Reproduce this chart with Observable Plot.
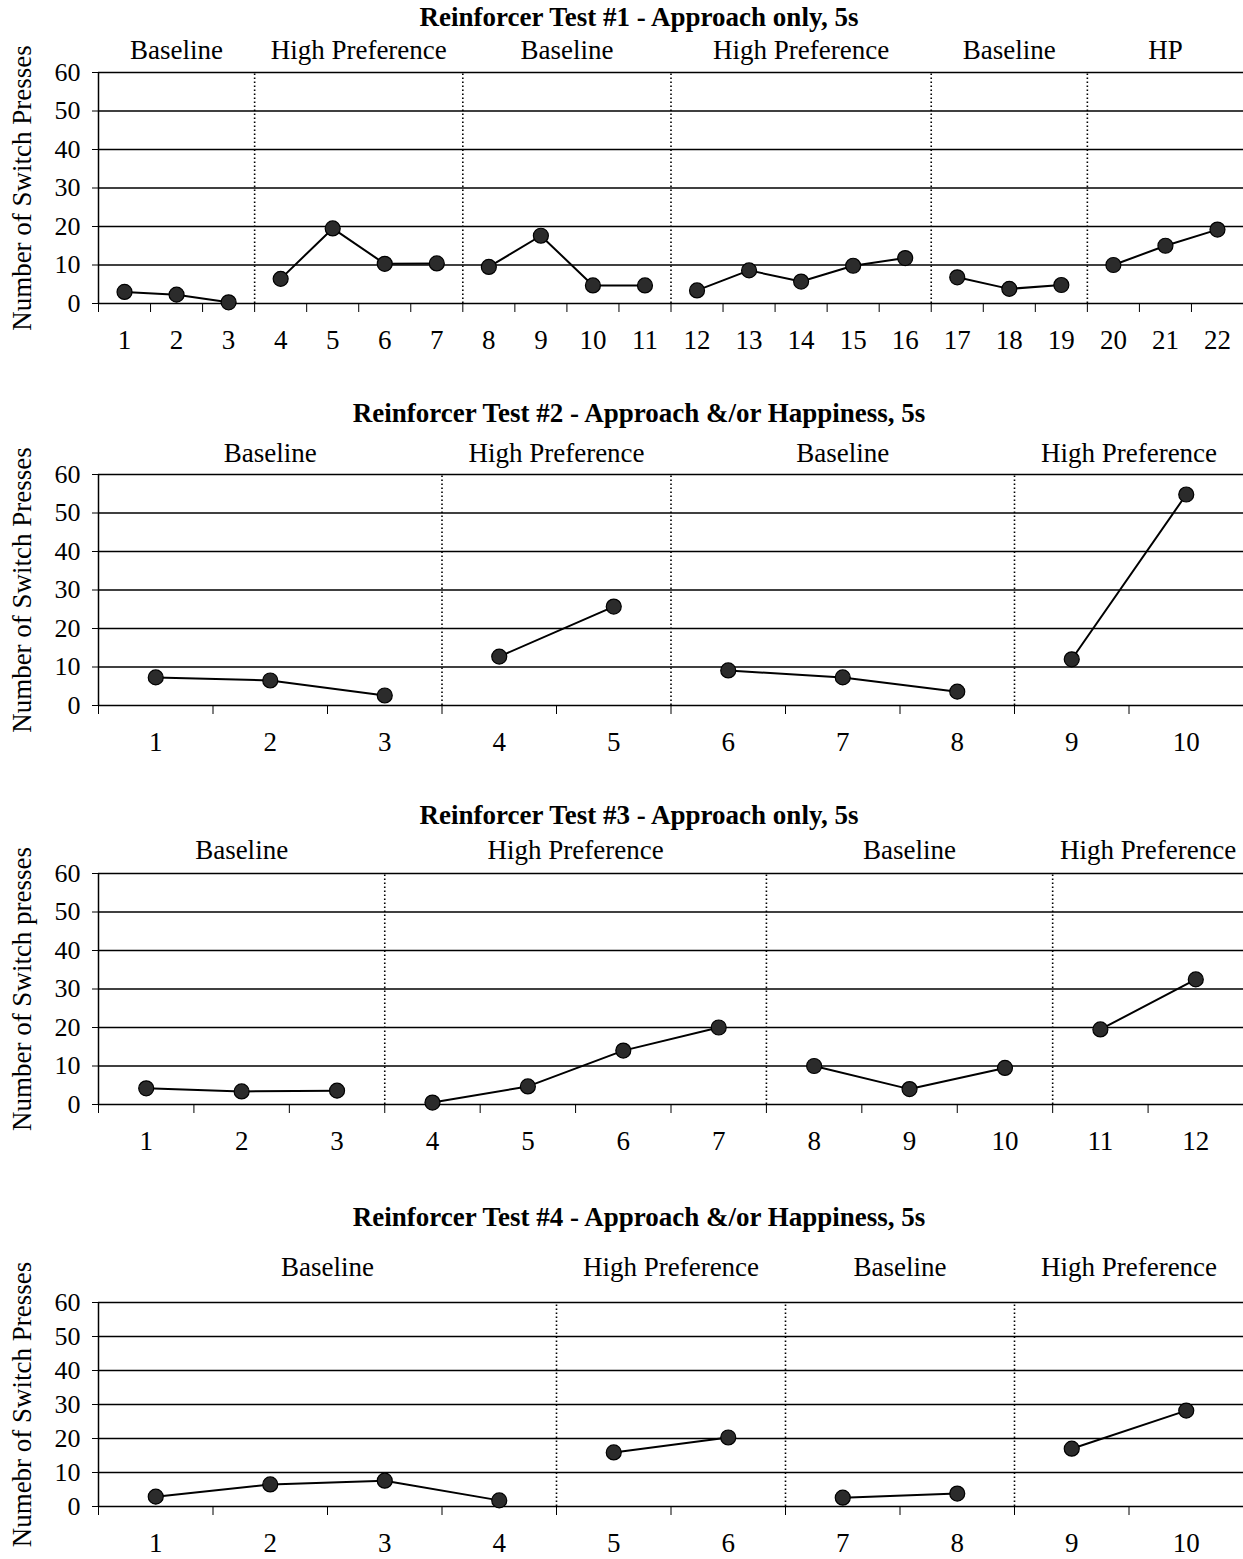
<!DOCTYPE html>
<html><head><meta charset="utf-8">
<script src="https://cdn.jsdelivr.net/npm/d3@7"></script>
<script src="https://cdn.jsdelivr.net/npm/@observablehq/plot@0.6"></script>
<style>
body{margin:0;background:#fff;width:1243px;height:1559px;overflow:hidden}
#chart svg{display:block}
</style></head><body><div id="chart"></div>
<script>
// ---- data ----
const titles = [
  "Reinforcer Test #1 - Approach only, 5s",
  "Reinforcer Test #2 - Approach &/or Happiness, 5s",
  "Reinforcer Test #3 - Approach only, 5s",
  "Reinforcer Test #4 - Approach &/or Happiness, 5s"
];
const yLabels = [
  "Number of Switch Presses",
  "Number of Switch Presses",
  "Number of Switch presses",
  "Numebr of Switch Presses"
];
const yTicks = [0, 10, 20, 30, 40, 50, 60];

const test1Values = [3, 2.3, 0.3, 6.4, 19.5, 10.3, 10.4, 9.5, 17.6, 4.7, 4.7, 3.4, 8.6, 5.7, 9.8, 11.8, 6.8, 3.8, 4.8, 10, 15, 19.2];
const test1Phases = ["Baseline", "High Preference", "Baseline", "High Preference", "Baseline", "HP"];
const test1PhaseLengths = [3, 4, 4, 5, 3, 3];

const test2Values = [7.3, 6.5, 2.6, 12.7, 25.7, 9.1, 7.3, 3.6, 12, 54.8];
const test2Phases = ["Baseline", "High Preference", "Baseline", "High Preference"];
const test2PhaseLengths = [3, 2, 3, 2];

const test3Values = [4.2, 3.4, 3.6, 0.5, 4.7, 14, 20, 10, 4, 9.5, 19.5, 32.5];
const test3Phases = ["Baseline", "High Preference", "Baseline", "High Preference"];
const test3PhaseLengths = [3, 4, 3, 2];

const test4Values = [2.9, 6.5, 7.6, 1.8, 15.9, 20.3, 2.6, 3.8, 17, 28.2];
const test4Phases = ["Baseline", "High Preference", "Baseline", "High Preference"];
const test4PhaseLengths = [4, 2, 2, 2];

// ---- layout per panel ----
const panels = [
  {values: test1Values, phases: test1Phases, lengths: test1PhaseLengths, height: 400, mt: 72, mb: 97, titleDy: -55, phaseDy: -22},
  {values: test2Values, phases: test2Phases, lengths: test2PhaseLengths, height: 400, mt: 74, mb: 95, titleDy: -61, phaseDy: -21},
  {values: test3Values, phases: test3Phases, lengths: test3PhaseLengths, height: 400, mt: 73, mb: 96, titleDy: -58, phaseDy: -23},
  {values: test4Values, phases: test4Phases, lengths: test4PhaseLengths, height: 359, mt: 102, mb: 53, titleDy: -85, phaseDy: -35}
];

const FONT = "'Liberation Serif', 'Times New Roman', serif";

panels.forEach((p, k) => {
  const n = p.values.length;
  const phaseOf = [];
  p.lengths.forEach((len, i) => { for (let j = 0; j < len; j++) phaseOf.push(i); });
  const rows = p.values.map((v, i) => ({session: i + 1, value: v, phase: phaseOf[i]}));
  const bounds = [];
  const phaseRows = [];
  let start = 0.5;
  p.lengths.forEach((len, i) => {
    const end = start + len;
    phaseRows.push({name: p.phases[i], center: (start + end) / 2});
    if (i < p.lengths.length - 1) bounds.push(end);
    start = end;
  });
  const chart = Plot.plot({
    width: 1243,
    height: p.height,
    marginLeft: 98,
    marginRight: 0,
    marginTop: p.mt,
    marginBottom: p.mb,
    style: {fontFamily: FONT, color: "#000", background: "#fff", overflow: "visible"},
    x: {domain: [0.5, n + 0.5]},
    y: {domain: [0, 60]},
    marks: [
      Plot.ruleY(yTicks, {stroke: "#000", strokeWidth: 1.3}),
      Plot.axisY({ticks: yTicks, tickSize: 6, tickPadding: 12, fontSize: 26, label: null, stroke: "#000"}),
      Plot.text([yLabels[k]], {frameAnchor: "left", rotate: -90, dx: -76, fontSize: 27, fill: "#000", lineAnchor: "middle", textAnchor: "middle"}),
      Plot.ruleX(bounds, {y1: 0, y2: 60, stroke: "#000", strokeWidth: 1.6, strokeDasharray: "1.5,2.5"}),
      Plot.ruleX([0.5], {y1: 0, y2: 60, stroke: "#000", strokeWidth: 1.5}),
      Plot.axisX({ticks: d3.range(0.5, n + 1, 1), tickSize: 9, tickFormat: () => "", label: null, stroke: "#000"}),
      Plot.axisX({ticks: d3.range(1, n + 1), tickSize: 0, tickPadding: 26, fontSize: 27, label: null}),
      Plot.line(rows, {x: "session", y: "value", z: "phase", stroke: "#000", strokeWidth: 2}),
      Plot.dot(rows, {x: "session", y: "value", r: 7.5, fill: "#2b2b2b", stroke: "#000", strokeWidth: 1.2}),
      Plot.text(phaseRows, {x: "center", y: () => 60, text: "name", dy: p.phaseDy, fontSize: 27, fill: "#000"}),
      Plot.text([titles[k]], {frameAnchor: "top", lineAnchor: "middle", dx: -32, dy: p.titleDy,
        fontSize: 27, fontWeight: "bold", fill: "#000"})
    ]
  });
  document.getElementById("chart").appendChild(chart);
});
</script></body></html>
